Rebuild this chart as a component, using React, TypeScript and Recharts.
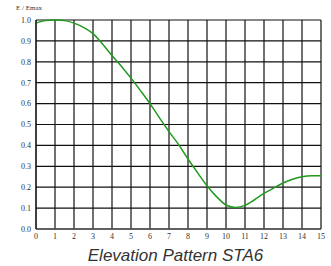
import { LineChart, Line, XAxis, YAxis, CartesianGrid } from "recharts";

// angle (x) and relative field strength
const angles = [0, 0.5, 1, 1.5, 2, 2.5, 3, 3.5, 4, 4.5, 5, 5.5, 6, 6.5, 7, 7.5, 8, 8.5, 9, 9.5, 10, 10.5, 11, 11.5, 12, 12.5, 13, 13.5, 14, 14.5, 15];
const ratio = [0.985, 0.997, 1.0, 0.997, 0.985, 0.965, 0.935, 0.885, 0.83, 0.778, 0.722, 0.662, 0.6, 0.532, 0.466, 0.405, 0.335, 0.27, 0.207, 0.155, 0.115, 0.103, 0.113, 0.14, 0.17, 0.196, 0.22, 0.238, 0.25, 0.255, 0.255];
const xTicks = [0, 1, 2, 3, 4, 5, 6, 7, 8, 9, 10, 11, 12, 13, 14, 15];
const yTicks = [0, 0.1, 0.2, 0.3, 0.4, 0.5, 0.6, 0.7, 0.8, 0.9, 1.0];

const data = angles.map((a, i) => ({ a, v: ratio[i] }));

const serif = "'Liberation Serif', 'DejaVu Serif', serif";
const tickStyle = { fill: "#333", fontSize: 8, fontFamily: serif, style: { fontFamily: serif } };

export default function App() {
  return (
    <div
      style={{
        position: "absolute",
        left: 0,
        top: 0,
        width: 331,
        height: 266,
        background: "#fff",
        fontFamily: serif,
      }}
    >
      <div style={{ position: "absolute", left: 16, top: 4, fontSize: 7, color: "#333" }}>E / Emax</div>
      <LineChart width={331} height={266} data={data} margin={{ top: 20, right: 10, left: 0, bottom: 0 }}>
        <CartesianGrid stroke="#111" strokeWidth={1.2} horizontalValues={yTicks} verticalValues={xTicks} />
        <XAxis
          dataKey="a"
          type="number"
          domain={[0, 15]}
          ticks={xTicks}
          interval={0}
          height={37}
          tickSize={0}
          tickMargin={4}
          tick={tickStyle}
          axisLine={{ stroke: "#555", strokeWidth: 1.5 }}
        />
        <YAxis
          type="number"
          domain={[0, 1]}
          ticks={yTicks}
          interval={0}
          width={36}
          tickSize={0}
          tickMargin={5}
          tick={tickStyle}
          tickFormatter={(v: number) => v.toFixed(1)}
          axisLine={{ stroke: "#111" }}
        />
        <Line
          type="monotone"
          dataKey="v"
          stroke="#1f9a1f"
          strokeWidth={1.5}
          dot={false}
          isAnimationActive={false}
        />
      </LineChart>
      <div
        style={{
          position: "absolute",
          left: 0,
          width: 351,
          top: 246,
          textAlign: "center",
          fontSize: 17,
          fontStyle: "italic",
          fontFamily: "'Liberation Sans', Arial, sans-serif",
          color: "#333",
        }}
      >
        Elevation Pattern STA6
      </div>
    </div>
  );
}
